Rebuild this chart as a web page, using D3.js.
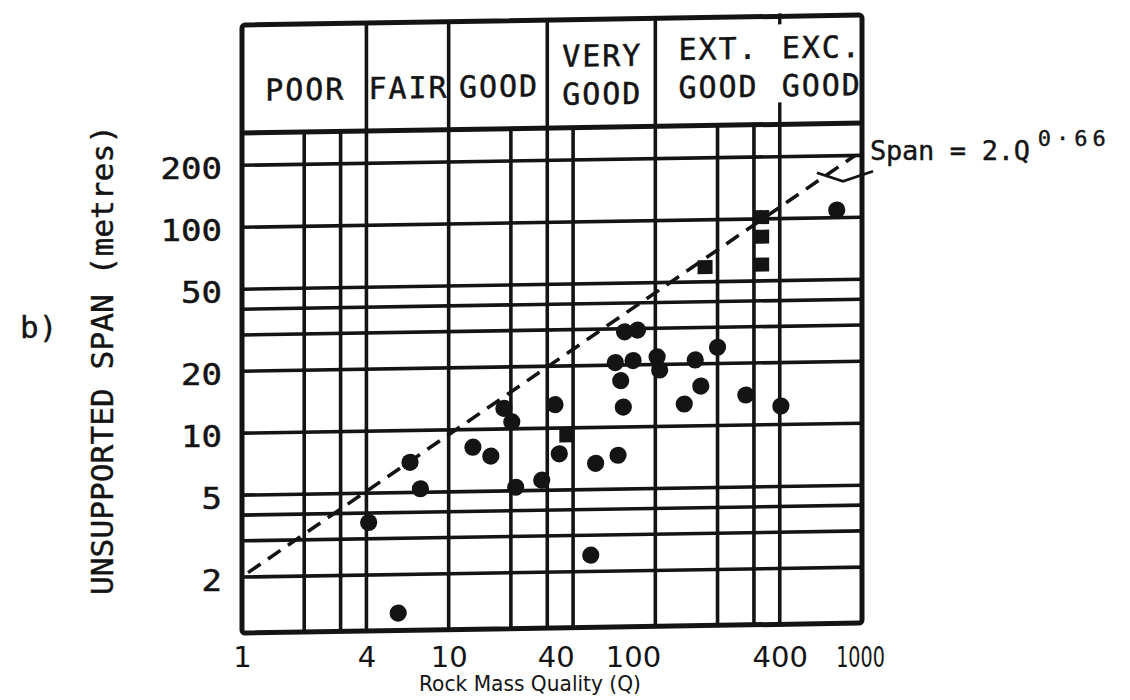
<!DOCTYPE html>
<html><head><meta charset="utf-8">
<script src="https://cdn.jsdelivr.net/npm/d3@7"></script>
<style>
body{margin:0;background:#fff;}
text{fill:#141414;}
</style></head><body>
<svg id="c" width="1130" height="700"></svg>
<script>
// ---- data ----
const circleQ    = [4.1, 5.7, 6.5, 7.3, 13.1, 16, 18.5, 20.2, 21.1, 28.2, 32.7, 34.3, 48.7, 51.4, 66, 64, 68, 70, 71, 82, 78, 102, 105, 138, 156, 166, 200, 274, 405, 755];
const circleSpan = [3.6, 1.3, 7.0, 5.2, 8.2, 7.4, 12.6, 10.8, 5.2, 5.6, 13, 7.5, 2.4, 6.7, 7.3, 20.6, 16.8, 12.5, 29, 29.5, 21, 21.8, 18.8, 12.8, 20.9, 15.6, 24, 14, 12.3, 109];
const squareQ    = [37.3, 174, 327, 327, 327];
const squareSpan = [9.2, 59, 102, 82, 60];
const classNames  = [["POOR"], ["FAIR"], ["GOOD"], ["VERY", "GOOD"], ["EXT.", "GOOD"], ["EXC.", "GOOD"]];
const classBounds = [1, 4, 10, 30, 100, 400, 1000];
const xGridQ    = [2, 3, 4, 10, 20, 30, 40, 100, 200, 300, 400];
const yGridSpan = [2, 3, 4, 5, 10, 20, 30, 40, 50, 100, 200];
const yTickValues = [2, 5, 10, 20, 50, 100, 200];
const xTickLabels = ["1", "4", "10", "40", "100", "400", "1000"];
const xTickAt     = [1, 4, 10, 33, 78, 400, 1000];
const spanLineQ = [1.07, 925];
const spanLineS = [2.1, 200];
const leaderQ = [605, 809, 1131];
const leaderS = [166, 150, 167];

// ---- layout ----
const svg = d3.select("#c");
const L = 242, R = 862, TOP = 25, HB = 133, BOT = 633;
const x = d3.scaleLog().domain([1, 1000]).range([L, R]);
const y = d3.scaleLog().domain([1.07, 287]).range([BOT, HB]);
const ink = "#141414";
const mono = "'DejaVu Sans Mono', monospace";
const sans = "'DejaVu Sans', sans-serif";

const g = svg.append("g")
  .attr("transform", `translate(${L},0) skewY(-0.92) translate(${-L},0)`);

// grid
g.append("g").selectAll("line").data(xGridQ).join("line")
  .attr("x1", d => x(d)).attr("x2", d => x(d))
  .attr("y1", HB).attr("y2", BOT)
  .attr("stroke", ink).attr("stroke-width", 3.6);
g.append("g").selectAll("line").data(yGridSpan).join("line")
  .attr("x1", L).attr("x2", R)
  .attr("y1", d => y(d)).attr("y2", d => y(d))
  .attr("stroke", ink).attr("stroke-width", 3.6);

// header dividers
const inner = classBounds.slice(1, -1);
g.append("g").selectAll("line").data(inner.filter(d => d !== 400)).join("line")
  .attr("x1", d => x(d)).attr("x2", d => x(d))
  .attr("y1", TOP).attr("y2", HB)
  .attr("stroke", ink).attr("stroke-width", 3.6);
[[TOP - 3, TOP + 8], [HB - 22, HB]].forEach(([a, b]) => {
  g.append("line").attr("x1", x(400)).attr("x2", x(400)).attr("y1", a).attr("y2", b)
    .attr("stroke", ink).attr("stroke-width", 3.4);
});
g.append("line").attr("x1", L).attr("x2", R).attr("y1", HB).attr("y2", HB)
  .attr("stroke", ink).attr("stroke-width", 5);

// frame
g.append("rect").attr("x", L).attr("y", TOP).attr("width", R - L).attr("height", BOT - TOP)
  .attr("fill", "none").attr("stroke", ink).attr("stroke-width", 5).attr("rx", 3);

// header labels
classNames.forEach((lines, i) => {
  const cx = (x(classBounds[i]) + x(classBounds[i + 1])) / 2;
  const ys = lines.length === 1 ? [101] : (i === 3 ? [72, 110] : [67, 105]);
  lines.forEach((t, j) => {
    g.append("text").attr("x", cx).attr("y", ys[j])
      .attr("text-anchor", "middle").attr("font-family", mono)
      .attr("font-size", 30).attr("stroke", ink).attr("stroke-width", 0.5)
      .attr("textLength", t.length * 19.5).attr("lengthAdjust", "spacing").text(t);
  });
});

// dashed reference line
const lineData = spanLineQ.map((q, i) => [q, spanLineS[i]]);
g.append("path").datum(lineData)
  .attr("d", d3.line().x(d => x(d[0])).y(d => y(d[1])))
  .attr("fill", "none").attr("stroke", ink).attr("stroke-width", 3.6)
  .attr("stroke-dasharray", "15,9");

// leader
const leadData = leaderQ.map((q, i) => [q, leaderS[i]]);
g.append("path").datum(leadData)
  .attr("d", d3.line().x(d => x(d[0])).y(d => y(d[1])))
  .attr("fill", "none").attr("stroke", ink).attr("stroke-width", 2.8);

// points
g.append("g").selectAll("circle").data(circleQ.map((q, i) => [q, circleSpan[i]])).join("circle")
  .attr("cx", d => x(d[0])).attr("cy", d => y(d[1])).attr("r", 8.6).attr("fill", ink);
g.append("g").selectAll("rect").data(squareQ.map((q, i) => [q, squareSpan[i]])).join("rect")
  .attr("x", d => x(d[0]) - 7.5).attr("y", d => y(d[1]) - 7).attr("width", 15).attr("height", 14)
  .attr("fill", ink);

// y axis labels
const ya = svg.append("g").attr("transform", `translate(${L},0)`)
  .call(d3.axisLeft(y).tickValues(yTickValues).tickSize(0).tickPadding(20).tickFormat(d3.format("d")));
ya.select(".domain").remove();
ya.selectAll("text").attr("font-family", mono).attr("font-size", 31)
  .attr("fill", ink).attr("stroke", ink).attr("stroke-width", 0.5).attr("dy", "0.42em")
  .each(function(d) {
    d3.select(this).attr("textLength", String(d).length * 20.5).attr("lengthAdjust", "spacingAndGlyphs");
  });

// x axis labels
const xa = svg.append("g").attr("transform", `translate(0,${BOT})`)
  .call(d3.axisBottom(x).tickValues(xTickAt).tickSize(0).tickPadding(13)
    .tickFormat((d, i) => xTickLabels[i]));
xa.select(".domain").remove();
xa.selectAll("text").attr("font-family", sans).attr("font-size", 29)
  .attr("fill", ink)
  .each(function(d, i) {
    if (xTickLabels[i] === "1000") d3.select(this).attr("transform", "translate(-2,0) scale(0.66,1)");
  });

// axis titles
svg.append("text").attr("x", 530).attr("y", 691).attr("text-anchor", "middle")
  .attr("font-family", sans).attr("font-size", 21.5)
  .attr("textLength", 222).attr("lengthAdjust", "spacingAndGlyphs")
  .text("Rock Mass Quality (Q)");
svg.append("text").attr("transform", "translate(113,360) rotate(-90)")
  .attr("text-anchor", "middle").attr("font-family", mono).attr("font-size", 30)
  .attr("stroke", ink).attr("stroke-width", 0.4)
  .attr("textLength", 470).attr("lengthAdjust", "spacingAndGlyphs")
  .text("UNSUPPORTED SPAN (metres)");
svg.append("text").attr("x", 20).attr("y", 338).attr("font-family", mono)
  .attr("font-size", 31).attr("stroke", ink).attr("stroke-width", 0.4).text("b)");

// equation annotation
const eq = svg.append("text").attr("x", 870).attr("y", 160).attr("font-family", mono)
  .attr("font-size", 27).attr("stroke", ink).attr("stroke-width", 0.4);
eq.append("tspan").attr("textLength", 160).attr("lengthAdjust", "spacing").text("Span = 2.Q");
eq.append("tspan").attr("dx", 8).attr("dy", -14).attr("font-size", 22)
  .attr("textLength", 68).attr("lengthAdjust", "spacing").text("0·66");
</script>
</body></html>
